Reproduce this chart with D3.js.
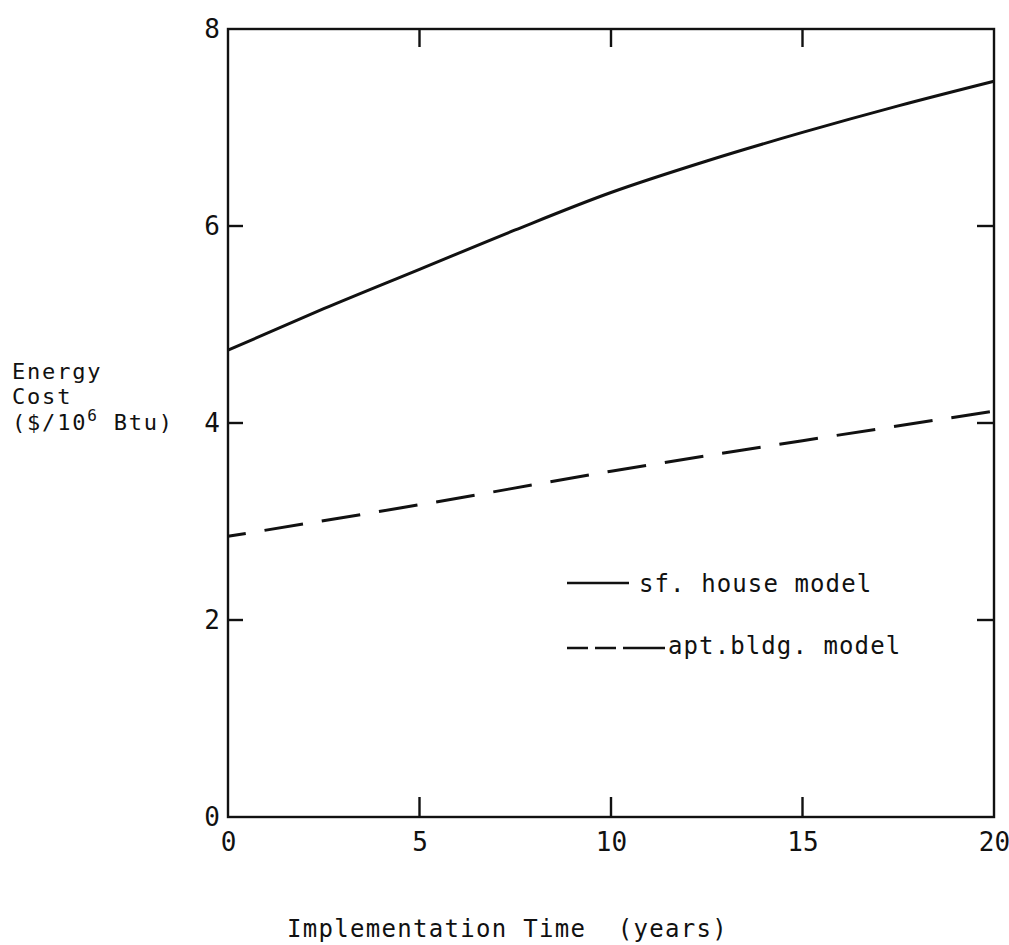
<!DOCTYPE html>
<html>
<head>
<meta charset="utf-8">
<script src="https://cdn.jsdelivr.net/npm/d3@7"></script>
<style>
  html, body { margin: 0; padding: 0; background: #fff; }
  svg { display: block; }
  text { font-family: "DejaVu Sans Mono", "Liberation Mono", monospace; fill: #111; }
</style>
</head>
<body>
<svg id="chart" width="1009" height="945"></svg>
<script>
// Energy cost versus implementation time for two building models
const years = [0, 2.5, 5, 7.5, 10, 12.5, 15, 17.5, 20];
const houseCost = [4.74, 5.16, 5.56, 5.96, 6.34, 6.66, 6.95, 7.22, 7.47];
const aptYears = [0, 5, 10, 15, 20];
const aptCost = [2.85, 3.17, 3.51, 3.82, 4.12];

const xTicks = [0, 5, 10, 15, 20];
const yTicks = [0, 2, 4, 6, 8];
const seriesNames = ["sf. house model", "apt.bldg. model"];

const svg = d3.select("#chart");
const plotLeft = 228, plotRight = 994, plotTop = 29, plotBottom = 817;

const x = d3.scaleLinear().domain([0, 20]).range([plotLeft, plotRight]);
const y = d3.scaleLinear().domain([0, 8]).range([plotBottom, plotTop]);

const ink = "#111";

// frame
svg.append("rect")
  .attr("x", plotLeft).attr("y", plotTop)
  .attr("width", plotRight - plotLeft).attr("height", plotBottom - plotTop)
  .attr("fill", "none").attr("stroke", ink).attr("stroke-width", 2.4);

// tick labels
const xAxis = svg.append("g")
  .attr("transform", `translate(0,${plotBottom})`)
  .call(d3.axisBottom(x).tickValues(xTicks).tickSize(0).tickPadding(16));
xAxis.select(".domain").remove();
xAxis.selectAll("text").attr("font-size", 26).attr("fill", ink)
  .style("font-family", "'DejaVu Sans Mono', monospace");

const yAxis = svg.append("g")
  .attr("transform", `translate(${plotLeft},0)`)
  .call(d3.axisLeft(y).tickValues(yTicks).tickSize(0).tickPadding(8));
yAxis.select(".domain").remove();
yAxis.selectAll("text").attr("font-size", 26).attr("fill", ink)
  .style("font-family", "'DejaVu Sans Mono', monospace");

// inward tick marks on all four sides
const innerX = xTicks.filter(d => d > 0 && d < 20);
const innerY = yTicks.filter(d => d > 0 && d < 8);
const ticks = svg.append("g").attr("stroke", ink).attr("stroke-width", 2.4);
innerX.forEach(d => {
  ticks.append("line").attr("x1", x(d)).attr("x2", x(d)).attr("y1", plotBottom).attr("y2", plotBottom - 20);
  ticks.append("line").attr("x1", x(d)).attr("x2", x(d)).attr("y1", plotTop).attr("y2", plotTop + 18);
});
innerY.forEach(d => {
  ticks.append("line").attr("x1", plotLeft).attr("x2", plotLeft + 15).attr("y1", y(d)).attr("y2", y(d));
  ticks.append("line").attr("x1", plotRight).attr("x2", plotRight - 17).attr("y1", y(d)).attr("y2", y(d));
});

// curves
const line = d3.line().x(d => x(d[0])).y(d => y(d[1])).curve(d3.curveMonotoneX);

svg.append("path")
  .datum(years.map((v, i) => [v, houseCost[i]]))
  .attr("d", line)
  .attr("fill", "none").attr("stroke", ink).attr("stroke-width", 3);

svg.append("path")
  .datum(aptYears.map((v, i) => [v, aptCost[i]]))
  .attr("d", line)
  .attr("fill", "none").attr("stroke", ink).attr("stroke-width", 3)
  .attr("stroke-dasharray", "39,19").attr("stroke-dashoffset", 21);

// legend
const legend = svg.append("g");
legend.append("line").attr("x1", 567).attr("x2", 629).attr("y1", 583).attr("y2", 583)
  .attr("stroke", ink).attr("stroke-width", 2.6);
legend.append("text").attr("x", 639).attr("y", 592)
  .attr("font-size", 24).attr("letter-spacing", 1.1).text(seriesNames[0]);
legend.append("line").attr("x1", 567).attr("x2", 665).attr("y1", 648).attr("y2", 648)
  .attr("stroke", ink).attr("stroke-width", 2.6).attr("stroke-dasharray", "21,7,21,7,42");
legend.append("text").attr("x", 668).attr("y", 654)
  .attr("font-size", 24).attr("letter-spacing", 1.1).text(seriesNames[1]);

// axis titles
const yTitle = svg.append("text").attr("font-size", 22).attr("letter-spacing", 1.8);
yTitle.append("tspan").attr("x", 12).attr("y", 379).text("Energy");
yTitle.append("tspan").attr("x", 12).attr("y", 404).text("Cost");
yTitle.append("tspan").attr("x", 12).attr("y", 430).text("($/10");
yTitle.append("tspan").attr("dy", -9).attr("font-size", 16).text("6");
yTitle.append("tspan").attr("dy", 9).text(" Btu)");

svg.append("text").attr("x", 287).attr("y", 937)
  .attr("font-size", 24).attr("letter-spacing", 1.3)
  .style("white-space", "pre")
  .text("Implementation Time  (years)");
</script>
</body>
</html>
